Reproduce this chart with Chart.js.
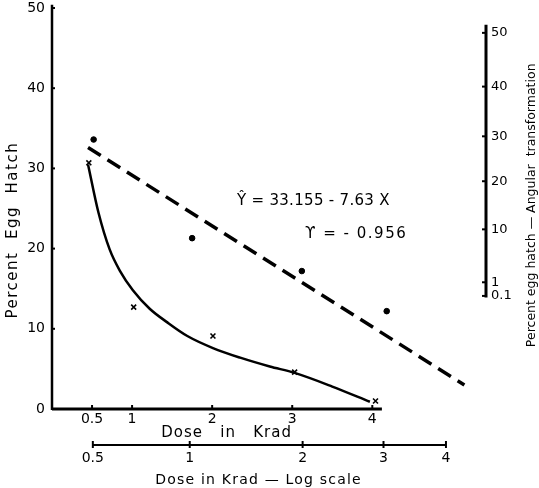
<!DOCTYPE html>
<html>
<head>
<meta charset="utf-8">
<title>egg hatch</title>
<script src="https://cdn.jsdelivr.net/npm/chart.js@4.4.0/dist/chart.umd.min.js"></script>
<style>
  html, body { margin: 0; padding: 0; background: #fff; }
  #box { width: 539px; height: 488px; }
</style>
</head>
<body>
<div id="box"><canvas id="myChart"></canvas></div>
<script>
// Percent egg hatch vs dose (Krad)

// left axis + linear dose axis
const yTicks = [0, 10, 20, 30, 40, 50];
const doseTicks = [0.5, 1, 2, 3, 4];

// "log scale" dose axis : labels and where they sit along the dose axis
const logTickLabels = ["0.5", "1", "2", "3", "4"];
const logTickPos = [0.51, 1.72, 3.13, 4.14, 4.92];

// right axis (angular transformation) : labels and their height in left-axis units
const angTickLabels = ["0.1", "1", "10", "20", "30", "40", "50"];
const angTickPos = [14.1, 15.8, 22.4, 28.4, 34.0, 40.2, 46.9];

// observed egg hatch (x marks), dose in Krad
const crossDose = [0.46, 1.02, 2.01, 3.03, 4.04];
const crossHatch = [30.7, 12.7, 9.1, 4.6, 1.0];

// fitted curve through the x marks
const curveDose = [0.45, 0.58, 0.72, 0.85, 1.01, 1.22, 1.44, 1.69, 2.01, 2.35, 2.72, 3.03, 3.5, 3.97];
const curveHatch = [30.5, 24.5, 19.9, 17.2, 14.8, 12.5, 10.8, 9.1, 7.6, 6.4, 5.3, 4.5, 2.8, 0.9];

// angular transformed points (dots) against the log dose axis
const dotPos = [0.52, 1.75, 3.12, 4.18];
const dotHatch = [33.6, 21.3, 17.2, 12.2];

// regression line Y = 33.155 - 7.63X (ends as drawn)
const regDose = [0.45, 5.15];
const regHatch = [32.6, 3.0];

const FONT = "'DejaVu Sans', sans-serif";

function pts(xs, ys) {
  return xs.map((v, i) => ({ x: v, y: ys[i] }));
}

// no extra room for the end labels, the frame sits where the figure puts it
function noPad(s) {
  s.paddingTop = 0;
  s.paddingBottom = 0;
  s.paddingLeft = 0;
  s.paddingRight = 0;
}

// axis lines, tick marks and the lettering of the figure
const paperLayer = {
  id: "paperLayer",
  afterDatasetsDraw(chart) {
    const ctx = chart.ctx;
    const { x, x2, y, y2 } = chart.scales;
    const ln = (ax, ay, bx, by, w) => {
      ctx.lineWidth = w;
      ctx.beginPath();
      ctx.moveTo(ax, ay);
      ctx.lineTo(bx, by);
      ctx.stroke();
    };
    const txt = (s, px, py, font, spacing, rot) => {
      ctx.save();
      ctx.translate(px, py);
      if (rot) ctx.rotate(rot);
      ctx.font = font;
      ctx.letterSpacing = spacing;
      ctx.fillText(s, 0, 0);
      ctx.restore();
    };
    ctx.save();
    ctx.strokeStyle = "#000";
    ctx.fillStyle = "#000";

    // left axis
    const x0 = x.getPixelForValue(0);
    ln(x0, y.getPixelForValue(0) + 1, x0, y.getPixelForValue(50.4), 2.5);
    y.ticks.forEach(t => {
      const py = y.getPixelForValue(t.value);
      ln(x0, py, x0 + 3, py, 2);
    });

    // linear dose axis
    const y0 = y.getPixelForValue(0);
    ln(x0, y0, x.getPixelForValue(4.12), y0, 3);
    x.ticks.forEach(t => {
      const px = x.getPixelForValue(t.value);
      ln(px, y0 - 4, px, y0 + 1, 2);
    });

    // log dose axis
    const yl = x2.top + 1;
    ln(x2.getPixelForValue(logTickPos[0]), yl, x2.getPixelForValue(logTickPos[logTickPos.length - 1]), yl, 2.2);
    x2.ticks.forEach(t => {
      const px = x2.getPixelForValue(t.value);
      ln(px, yl - 4, px, yl + 3, 2);
    });

    // right axis
    const xr = y2.left;
    ln(xr, y2.getPixelForValue(13.9), xr, y2.getPixelForValue(47.9), 3);
    y2.ticks.forEach(t => {
      const py = y2.getPixelForValue(t.value);
      ln(xr - 4, py, xr, py, 2);
    });

    // lettering
    ctx.textBaseline = "middle";
    ctx.textAlign = "center";
    txt("Dose   in   Krad", x.getPixelForValue(2.18), 433, "15px " + FONT, "1px");
    txt("Dose in Krad \u2014 Log scale", x.getPixelForValue(2.58), 480, "14px " + FONT, "1.2px");
    txt("Percent  Egg  Hatch", 13, y.getPixelForValue(22.3), "15px " + FONT, "1.5px", -Math.PI / 2);
    txt("Percent egg hatch \u2014 Angular  transformation", 532, y.getPixelForValue(25.4), "12.5px " + FONT, "0px", -Math.PI / 2);

    ctx.textAlign = "left";
    txt("\u0176 = 33.155 - 7.63 X", x.getPixelForValue(2.31), y.getPixelForValue(25.9), "15px " + FONT, "0.3px");
    txt("\u03D2 = - 0.956", x.getPixelForValue(3.16), y.getPixelForValue(21.8), "15px " + FONT, "1.5px");
    ctx.restore();
  }
};

const config = {
  type: "line",
  data: {
    datasets: [
      {
        label: "regression",
        data: pts(regDose, regHatch),
        borderColor: "#000",
        borderWidth: 3.5,
        borderDash: [15, 8],
        pointRadius: 0,
        xAxisID: "x",
        yAxisID: "y",
      },
      {
        label: "curve",
        data: pts(curveDose, curveHatch),
        borderColor: "#000",
        borderWidth: 2.5,
        cubicInterpolationMode: "monotone",
        pointRadius: 0,
        xAxisID: "x",
        yAxisID: "y",
      },
      {
        label: "observed",
        data: pts(crossDose, crossHatch),
        showLine: false,
        pointStyle: "crossRot",
        pointRadius: 3.5,
        borderColor: "#000",
        borderWidth: 1.6,
        xAxisID: "x",
        yAxisID: "y",
      },
      {
        label: "angular",
        data: pts(dotPos, dotHatch),
        showLine: false,
        pointStyle: "circle",
        pointRadius: 2.8,
        backgroundColor: "#000",
        borderColor: "#000",
        xAxisID: "x2",
        yAxisID: "y",
      },
    ],
  },
  options: {
    responsive: true,
    maintainAspectRatio: false,
    animation: false,
    layout: { padding: { top: 8, left: 0, right: 0, bottom: 0 } },
    plugins: { legend: { display: false }, tooltip: { enabled: false } },
    scales: {
      x: {
        type: "linear",
        position: "bottom",
        min: 0,
        max: 5.42,
        afterBuildTicks: s => { s.ticks = doseTicks.map(v => ({ value: v })); },
        afterFit: s => { s.height = 35; noPad(s); },
        grid: { display: false, drawTicks: false },
        border: { display: false },
        ticks: { autoSkip: false, maxRotation: 0, padding: 2, color: "#000", font: { family: FONT, size: 14 } },
      },
      x2: {
        type: "linear",
        position: "bottom",
        min: 0,
        max: 5.42,
        afterBuildTicks: s => { s.ticks = logTickPos.map(v => ({ value: v })); },
        afterFit: s => { s.height = 44; noPad(s); },
        grid: { display: false, drawTicks: false },
        border: { display: false },
        ticks: {
          autoSkip: false, maxRotation: 0, padding: 6, color: "#000",
          font: { family: FONT, size: 14 },
          callback: (v, i) => logTickLabels[i],
        },
      },
      y: {
        type: "linear",
        position: "left",
        min: 0,
        max: 50,
        afterBuildTicks: s => { s.ticks = yTicks.map(v => ({ value: v })); },
        afterFit: s => { s.width = 52; noPad(s); },
        grid: { display: false, drawTicks: false },
        border: { display: false },
        ticks: { padding: 7, color: "#000", font: { family: FONT, size: 14 } },
      },
      y2: {
        type: "linear",
        position: "right",
        min: 0,
        max: 50,
        afterBuildTicks: s => { s.ticks = angTickPos.map(v => ({ value: v })); },
        afterFit: s => { s.width = 53; noPad(s); },
        grid: { display: false, drawTicks: false },
        border: { display: false },
        ticks: {
          autoSkip: false, padding: 5, color: "#000",
          font: { family: FONT, size: 13 },
          callback: (v, i) => angTickLabels[i],
        },
      },
    },
  },
  plugins: [paperLayer],
};

const chart = new Chart(document.getElementById("myChart").getContext("2d"), config);
</script>
</body>
</html>
